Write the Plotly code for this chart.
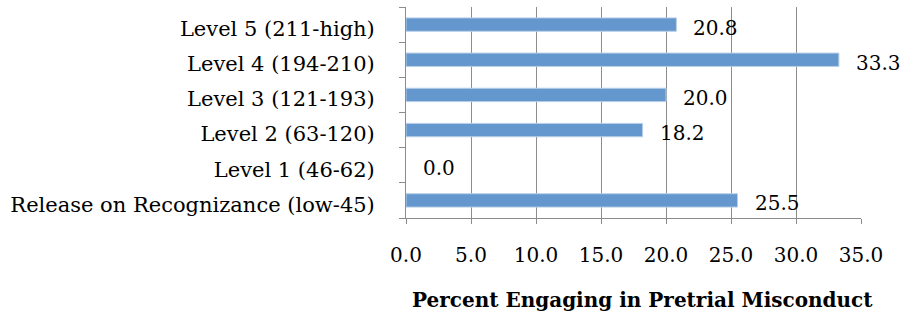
import plotly.graph_objects as go

# Risk levels (bottom to top) and percent engaging in pretrial misconduct
categories = [
    "Release on Recognizance (low-45)",
    "Level 1 (46-62)",
    "Level 2 (63-120)",
    "Level 3 (121-193)",
    "Level 4 (194-210)",
    "Level 5 (211-high)",
]
values = [25.5, 0.0, 18.2, 20.0, 33.3, 20.8]
x_ticks = [0, 5, 10, 15, 20, 25, 30, 35]
x_tick_labels = [f"{t:.1f}" for t in x_ticks]
x_title = "Percent Engaging in Pretrial Misconduct"

FONT = "DejaVu Serif"
GRID = "#8c8c8c"

fig = go.Figure()
fig.add_trace(go.Bar(
    x=values,
    y=categories,
    orientation="h",
    width=0.38,
    marker=dict(
        color="#6397cd",
        line=dict(color="#b8cfe8", width=[1 if v > 0 else 0 for v in values]),
    ),
    hoverinfo="skip",
))

# Value labels to the right of each bar
for v, c in zip(values, categories):
    fig.add_annotation(
        x=v, y=c, xref="x", yref="y",
        text=f"{v:.1f}", showarrow=False,
        xanchor="left", yanchor="middle",
        xshift=15, yshift=-3,
        font=dict(family=FONT, size=20, color="black"),
    )

# Axis title, slightly right of the plot centre
fig.add_annotation(
    x=0.519, y=-0.39, xref="paper", yref="paper",
    text=f"<b>{x_title}</b>", showarrow=False,
    xanchor="center", yanchor="middle",
    font=dict(family=FONT, size=20, color="black"),
)

fig.update_layout(
    width=914, height=328,
    margin=dict(l=406, r=53, t=7, b=110),
    paper_bgcolor="white", plot_bgcolor="white",
    showlegend=False,
    font=dict(family=FONT, size=20, color="black"),
    xaxis=dict(
        range=[0, 35],
        tickvals=x_ticks, ticktext=x_tick_labels,
        showgrid=True, gridcolor=GRID, gridwidth=1,
        zeroline=False,
        showline=True, linecolor=GRID, linewidth=1,
        ticks="outside", ticklen=5, tickcolor=GRID,
        ticklabelstandoff=14,
        tickfont=dict(family=FONT, size=20, color="black"),
        automargin=False,
        fixedrange=True,
    ),
    yaxis=dict(
        type="category",
        categoryorder="array", categoryarray=categories,
        range=[-0.5, 5.5],
        showgrid=False, zeroline=False,
        showline=True, linecolor=GRID, linewidth=1,
        ticks="outside", ticklen=6, tickcolor=GRID,
        tickson="boundaries",
        ticklabelstandoff=26,
        ticklabelshift=4,
        tickfont=dict(family=FONT, size=21, color="black"),
        automargin=False,
        fixedrange=True,
    ),
)

fig.write_html("out.html")
